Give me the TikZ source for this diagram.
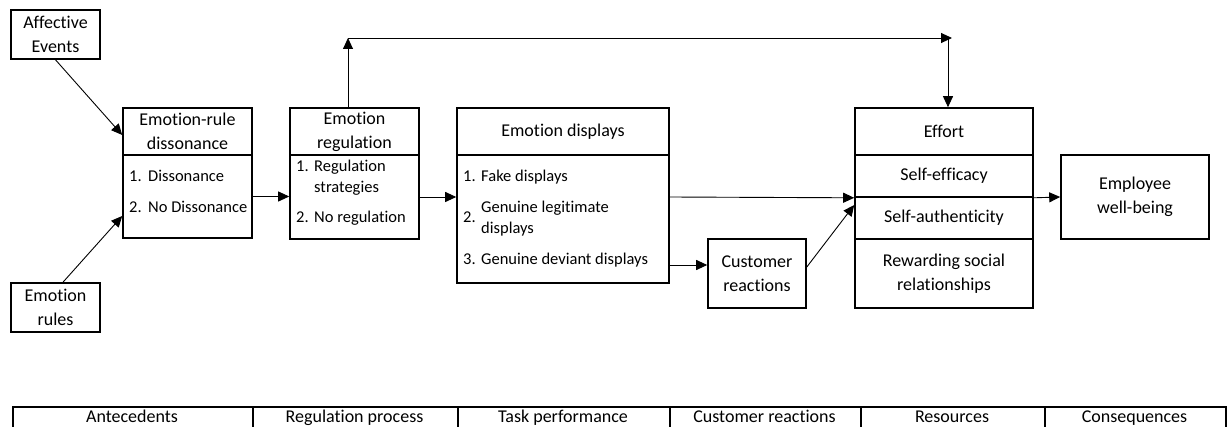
\documentclass[tikz,border=0pt]{standalone}
\usepackage{fontspec}
\setmainfont{Carlito}[Ligatures={NoCommon}]
\usetikzlibrary{arrows.meta,calc}

\begin{document}
\begin{tikzpicture}[x=1pt,y=-1pt,
  box/.style n args={2}{draw, line width=1.6pt, inner sep=0pt, align=center,
    minimum width=#1pt, minimum height=#2pt, font=\fontsize{18}{24}\selectfont},
  cell/.style={draw, line width=1.6pt, inner sep=0pt, minimum width=#1pt, minimum height=34pt},
  arr/.style={line width=0.9pt, -{Triangle[length=11pt,width=10pt]}},
  item/.style={anchor=base west, inner sep=0pt, font=\fontsize{16.5}{21}\selectfont},
  colhead/.style={anchor=base, inner sep=0pt, font=\fontsize{18}{24}\selectfont}]

\useasboundingbox (0,0) rectangle (1230,427);

% antecedents
\node[box={89}{49}] (ae) at (55.5,34.5) {Affective\\Events};
\node[box={89}{49}] (er) at (55.5,307.5) {Emotion\\rules};

% emotion-rule dissonance
\node[box={129}{47}] (dissH) at (187.5,131.5) {Emotion-rule\\dissonance};
\node[box={129}{83}] (dissB) at (187.5,196.5) {};
\node[item] (d1n) at (129,182) {1.};
\node[item] (d1t) at (148,182) {Dissonance};
\node[item] (d2n) at (129,213) {2.};
\node[item] (d2t) at (148,213) {No Dissonance};

% emotion regulation
\node[box={129}{47}] (regH) at (354.5,131.5) {Emotion\\regulation};
\node[box={129}{84}] (regB) at (354.5,197) {};
\node[item] (r1n) at (296,172) {1.};
\node[item] (r1a) at (314,172) {Regulation};
\node[item] (r1b) at (314,193) {strategies};
\node[item] (r2n) at (296,223) {2.};
\node[item] (r2t) at (314,223) {No regulation};

% emotion displays
\node[box={212}{47}] (dispH) at (563,131.5) {Emotion displays};
\node[box={212}{128}] (dispB) at (563,219) {};
\node[item] (p1n) at (463,182) {1.};
\node[item] (p1t) at (481,182) {Fake displays};
\node[item] (p2n) at (463,223) {2.};
\node[item] (p2a) at (481,213) {Genuine legitimate};
\node[item] (p2b) at (481,234) {displays};
\node[item] (p3n) at (463,265) {3.};
\node[item] (p3t) at (481,265) {Genuine deviant displays};

% customer reactions
\node[box={98}{69}] (cust) at (757,273.5) {Customer\\reactions};

% resources
\node[box={178}{47}] (eff) at (944,131.5) {Effort};
\node[box={178}{42}] (se) at (944,176) {Self-efficacy};
\node[box={178}{42}] (sa) at (944,218) {Self-authenticity};
\node[box={178}{69}] (rsr) at (944,273.5) {Rewarding social\\relationships};

% consequences
\node[box={148}{84}] (ewb) at (1135,197) {Employee\\well-being};

% connectors
\draw[arr] (ae.south) -- ([yshift=-3.5pt]dissH.west);
\draw[arr] ([xshift=7.5pt]er.north) -- ([yshift=-19.5pt]dissB.west);
\draw[arr] (dissB.east) -- (dissB.east -| regB.west);
\draw[arr] (regB.east) -- (regB.east -| dispB.west);

\coordinate (tl) at (348,38);
\coordinate (tr) at (952,38);
\coordinate (tv) at (948,38);
\draw[arr] ([xshift=-6.5pt]regH.north) -- (tl);
\draw[arr] (tl) -- (tr);
\draw[arr] (tv) -- ([xshift=4pt]eff.north);

\draw[arr] ([yshift=22pt]dispB.east) -- (se.south west);
\draw[arr] ([yshift=-46pt]dispB.east) -- ([yshift=-46pt]dispB.east -| cust.west);
\draw[arr] ([yshift=6.5pt]cust.east) -- ([yshift=13pt]sa.west);
\draw[arr] (se.south east) -- (ewb.west);

% stage table
\node[cell=240, anchor=north west] (c1) at (12,406) {};
\node[cell=205, anchor=north west] (c2) at (252,406) {};
\node[cell=212, anchor=north west] (c3) at (457,406) {};
\node[cell=191, anchor=north west] (c4) at (669,406) {};
\node[cell=184, anchor=north west] (c5) at (860,406) {};
\node[cell=181, anchor=north west] (c6) at (1044,406) {};
\node[colhead] (t1) at (132,422.5) {Antecedents};
\node[colhead] (t2) at (354.5,422.5) {Regulation process};
\node[colhead] (t3) at (563,422.5) {Task performance};
\node[colhead] (t4) at (764.5,422.5) {Customer reactions};
\node[colhead] (t5) at (952,422.5) {Resources};
\node[colhead] (t6) at (1134.5,422.5) {Consequences};
\end{tikzpicture}
\end{document}
